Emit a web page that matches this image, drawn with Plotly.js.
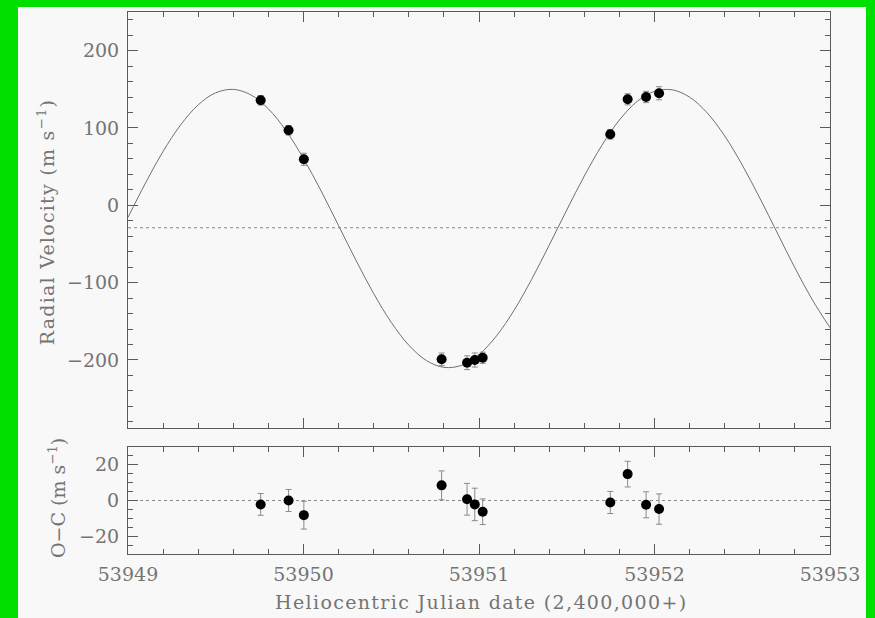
<!DOCTYPE html>
<html><head><meta charset="utf-8">
<script src="https://cdn.plot.ly/plotly-3.0.1.min.js"></script>
<style>
html,body{margin:0;padding:0;background:#00e000;width:875px;height:618px;overflow:hidden}
#plot{position:absolute;left:18px;top:7px;width:848px;height:611px;}
g.annotation[data-index="0"] text.annotation-text{letter-spacing:1.35px}
g.annotation[data-index="1"] text.annotation-text{letter-spacing:1.25px}
</style></head><body><div id="plot"></div>
<script>
// Observations (HJD - 2,400,000)
const obsTime = [53949.756, 53949.915, 53950.002, 53950.787, 53950.932, 53950.976, 53951.021, 53951.748, 53951.847, 53951.952, 53952.026];
const obsVelocity = [135.8, 97.0, 59.5, -199.2, -203.6, -200.1, -197.2, 91.8, 137.1, 140.1, 144.9];
const obsError = [6.1, 6.2, 7.8, 8.1, 8.9, 9.1, 7.2, 6.2, 7.2, 7.3, 8.5];
const residual = [-2.2, 0.0, -8.2, 8.5, 0.7, -2.2, -6.3, -1.1, 14.8, -2.4, -4.8];

// Orbit model curve, every 0.1 day
const modelTime = [53949.0, 53949.1, 53949.2, 53949.3, 53949.4, 53949.5, 53949.6, 53949.7, 53949.8, 53949.9,
  53950.0, 53950.1, 53950.2, 53950.3, 53950.4, 53950.5, 53950.6, 53950.7, 53950.8, 53950.9,
  53951.0, 53951.1, 53951.2, 53951.3, 53951.4, 53951.5, 53951.6, 53951.7, 53951.8, 53951.9,
  53952.0, 53952.1, 53952.2, 53952.3, 53952.4, 53952.5, 53952.6, 53952.7, 53952.8, 53952.9, 53953.0];
const modelVelocity = [-15.6, 28.9, 69.7, 104.0, 129.9, 145.5, 149.9, 142.8, 124.7, 96.6,
  60.5, 18.7, -26.4, -71.6, -114.2, -151.4, -180.9, -200.7, -209.6, -207.0,
  -193.1, -168.8, -135.7, -95.7, -51.6, -6.1, 37.9, 77.5, 110.3, 134.1,
  147.4, 149.4, 139.9, 119.6, 89.7, 52.1, 9.4, -35.9, -80.9, -122.5, -158.3];
const systemicVelocity = -29;

const xRange = [53949, 53953];
const velRange = [-288, 250];
const resRange = [-30, 30];

const FONT = 'DejaVu Serif, Liberation Serif, serif';
const TXT = '#747474';
const AX = '#5a5a5a';

const markerStyle = {color: '#000', size: 10};
const errStyle = (arr) => ({type: 'data', array: arr, visible: true, color: '#8a8a8a', thickness: 1, width: 3});

const traces = [
  {x: modelTime, y: modelVelocity, xaxis: 'x2', yaxis: 'y2', mode: 'lines',
   line: {color: '#707070', width: 1, shape: 'spline', smoothing: 1}, hoverinfo: 'skip'},
  {x: obsTime, y: obsVelocity, xaxis: 'x2', yaxis: 'y2', mode: 'markers', type: 'scatter',
   marker: markerStyle, error_y: errStyle(obsError)},
  {x: obsTime, y: residual, xaxis: 'x', yaxis: 'y', mode: 'markers', type: 'scatter',
   marker: markerStyle, error_y: errStyle(obsError)}
];

const baseAxis = {
  showline: true, linecolor: AX, linewidth: 1, mirror: 'allticks',
  ticks: 'inside', ticklen: 10, tickcolor: AX, tickwidth: 1,
  showgrid: false, zeroline: false,
  tickfont: {family: FONT, size: 19, color: TXT}
};

const layout = {
  width: 848, height: 611,
  paper_bgcolor: '#f8f8f8', plot_bgcolor: '#f8f8f8',
  margin: {l: 110, r: 36, t: 5, b: 64},
  showlegend: false,
  xaxis: Object.assign({}, baseAxis, {
    domain: [0, 1], anchor: 'y', range: xRange, tick0: 53949, dtick: 1, tickformat: 'd',
    minor: {dtick: 0.2, ticklen: 5, ticks: 'inside', tickcolor: AX},
    ticklabelstandoff: 3
  }),
  xaxis2: Object.assign({}, baseAxis, {
    domain: [0, 1], anchor: 'y2', matches: 'x', range: xRange, tick0: 53949, dtick: 1,
    showticklabels: false,
    minor: {dtick: 0.2, ticklen: 5, ticks: 'inside', tickcolor: AX}
  }),
  yaxis: Object.assign({}, baseAxis, {
    domain: [0, 0.1974], anchor: 'x', range: resRange, tick0: 0, dtick: 20,
    minor: {dtick: 5, ticklen: 5, ticks: 'inside', tickcolor: AX},
    ticklabelstandoff: 4
  }),
  yaxis2: Object.assign({}, baseAxis, {
    domain: [0.2325, 1], anchor: 'x2', range: velRange, tick0: 0, dtick: 100,
    minor: {dtick: 20, ticklen: 5, ticks: 'inside', tickcolor: AX},
    ticklabelstandoff: 4
  }),
  shapes: [
    {type: 'line', xref: 'x2 domain', x0: 0, x1: 1, yref: 'y2', y0: systemicVelocity, y1: systemicVelocity,
     line: {color: '#8a8a8a', width: 1, dash: 'dot'}, layer: 'below'},
    {type: 'line', xref: 'x domain', x0: 0, x1: 1, yref: 'y', y0: 0, y1: 0,
     line: {color: '#8a8a8a', width: 1, dash: 'dot'}, layer: 'below'}
  ],
  annotations: [
    {text: 'Heliocentric Julian date (2,400,000+)', xref: 'paper', yref: 'paper', x: 0.5028, y: -0.0886,
     xanchor: 'center', yanchor: 'middle', showarrow: false, font: {family: FONT, size: 19, color: TXT}},
    {text: 'Radial Velocity (m s<sup>−1</sup>)', xref: 'paper', yref: 'paper', x: -0.1168, y: 0.6126,
     textangle: -90, xanchor: 'center', yanchor: 'middle', showarrow: false, font: {family: FONT, size: 19, color: TXT}},
    {text: 'O−C (m s<sup>−1</sup>)', xref: 'paper', yref: 'paper', x: -0.1011, y: 0.1033,
     textangle: -90, xanchor: 'center', yanchor: 'middle', showarrow: false, font: {family: FONT, size: 19, color: TXT}}
  ]
};

Plotly.newPlot('plot', traces, layout, {displayModeBar: false, staticPlot: true});
</script></body></html>
